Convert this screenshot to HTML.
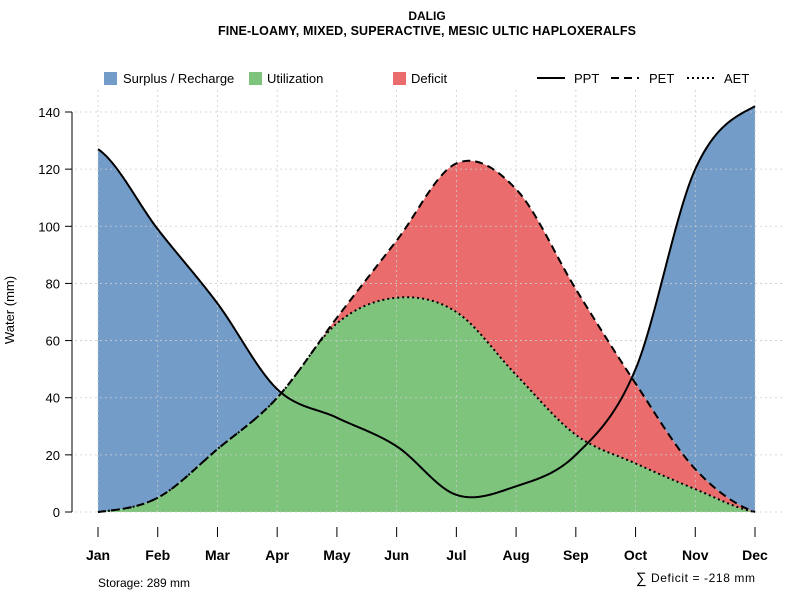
<!DOCTYPE html>
<html><head><meta charset="utf-8"><style>
body{margin:0;background:#fff;}
svg{font-family:"Liberation Sans",sans-serif;}
</style></head><body>
<svg id="c" width="800" height="600" xmlns="http://www.w3.org/2000/svg">
<text x="427" y="20" text-anchor="middle" font-size="12" font-weight="bold">DALIG</text>
<text x="427" y="35" text-anchor="middle" font-size="12.5" font-weight="bold" textLength="418">FINE-LOAMY, MIXED, SUPERACTIVE, MESIC ULTIC HAPLOXERALFS</text>
<g id="plot"></g>
<g id="axes"></g>
<g font-size="13">
<rect x="104" y="72" width="13" height="13" fill="#739cc9"/>
<text x="123" y="83">Surplus / Recharge</text>
<rect x="249" y="72" width="13" height="13" fill="#7ec47c"/>
<text x="267" y="83">Utilization</text>
<rect x="393" y="72" width="13" height="13" fill="#ea6c6c"/>
<text x="411" y="83">Deficit</text>
<line x1="537" y1="78" x2="565" y2="78" stroke="#000" stroke-width="2"/>
<text x="574" y="83">PPT</text>
<line x1="611" y1="78" x2="639" y2="78" stroke="#000" stroke-width="2" stroke-dasharray="8,5"/>
<text x="649" y="83">PET</text>
<line x1="687" y1="78" x2="715" y2="78" stroke="#000" stroke-width="2" stroke-dasharray="2,3"/>
<text x="724" y="83">AET</text>
</g>
<text x="14" y="310" transform="rotate(-90 14 310)" text-anchor="middle" font-size="13">Water (mm)</text>
<text x="98" y="587" font-size="12">Storage: 289 mm</text>
<text x="636" y="583" font-size="15">∑</text>
<text x="651" y="582" font-size="12" textLength="104">Deficit = -218 mm</text>
</svg>
<script>
const months=["Jan","Feb","Mar","Apr","May","Jun","Jul","Aug","Sep","Oct","Nov","Dec"];
const ppt=[127,99,73,43,33,23,6,9,20,50,120,142];
const pet=[0,5,22,40,68,95,122,113,78,45,15,0];
const aet=[0,5,22,40,66,75,70,48,27,17,8,0];
const yTicks=[0,20,40,60,80,100,120,140];
const NS="http://www.w3.org/2000/svg";
const X=i=>98+i*(755-98)/11, Y=v=>512-v*400/140;
function interp(a,t){const n=a.length;let i=Math.min(Math.floor(t),n-2);const u=t-i;
 const p0=a[Math.max(i-1,0)],p1=a[i],p2=a[i+1],p3=a[Math.min(i+2,n-1)];
 return 0.5*((2*p1)+(-p0+p2)*u+(2*p0-5*p1+4*p2-p3)*u*u+(-p0+3*p1-3*p2+p3)*u*u*u);}
const N=440,ts=[];for(let k=0;k<=N;k++)ts.push(k*11/N);
const sP=ts.map(t=>interp(ppt,t)),sE=ts.map(t=>Math.max(0,interp(pet,t))),sA=ts.map(t=>Math.max(0,Math.min(interp(aet,t),interp(pet,t))));
function el(tag,attrs,parent){const e=document.createElementNS(NS,tag);for(const k in attrs)e.setAttribute(k,attrs[k]);parent.appendChild(e);return e;}
const plot=document.getElementById('plot'),axes=document.getElementById('axes');
function poly(top,bot,fill,name){let d="M";ts.forEach((t,k)=>d+=X(t).toFixed(2)+","+Y(top[k]).toFixed(2)+" L");
 for(let k=N;k>=0;k--)d+=X(ts[k]).toFixed(2)+","+Y(bot[k]).toFixed(2)+(k?" L":" Z");
 const p=el('path',{d:d,fill:fill},plot);
 
 }
poly(sP.map((v,k)=>Math.max(v,sE[k])),sE,'#739cc9','surplus-area');
poly(sE,sA,'#ea6c6c','deficit-area');
poly(sA,ts.map(()=>0),'#7ec47c','utilization-area');
yTicks.forEach(v=>{const g=el('line',{x1:70,x2:782,y1:Y(v),y2:Y(v),stroke:'#ccc','stroke-dasharray':'2,3','stroke-width':0.8},plot);
 
 });
months.forEach((m,i)=>{const g=el('line',{x1:X(i),x2:X(i),y1:90,y2:515,stroke:'#ccc','stroke-dasharray':'2,3','stroke-width':0.8},plot);
 
 });
function line(s,dash,name){let d="";ts.forEach((t,k)=>d+=(k?"L":"M")+X(t).toFixed(2)+","+Y(s[k]).toFixed(2));
 const p=el('path',{d:d,fill:'none',stroke:'#000','stroke-width':2,'stroke-dasharray':dash},plot);
 
 }
line(sA,'2,3','aet-line');line(sE,'8,5','pet-line');line(sP,'none','ppt-line');
el('line',{x1:72,x2:72,y1:Y(0),y2:Y(140),stroke:'#000'},axes);
yTicks.forEach(v=>{el('line',{x1:65,x2:72,y1:Y(v),y2:Y(v),stroke:'#000'},axes);
 const t=el('text',{x:60,y:Y(v)+5,'text-anchor':'end','font-size':13},axes);t.textContent=v;
 
 });
months.forEach((m,i)=>{el('line',{x1:X(i),x2:X(i),y1:527,y2:537,stroke:'#000'},axes);
 const t=el('text',{x:X(i),y:560,'text-anchor':'middle','font-size':14,'font-weight':'bold'},axes);t.textContent=m;
 
 });
</script>
</body></html>
